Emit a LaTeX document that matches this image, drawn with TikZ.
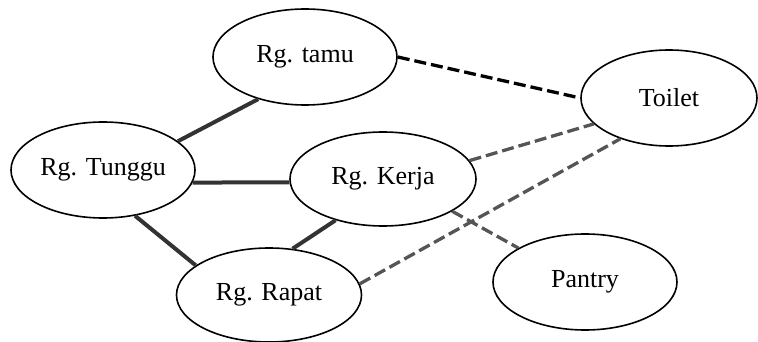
\documentclass[tikz,border=0pt]{standalone}
\usepackage{fontspec}
\setmainfont{Liberation Serif}
\usetikzlibrary{shapes.geometric}
\definecolor{solidgray}{HTML}{333333}
\definecolor{dashgray}{HTML}{555555}
\tikzset{
  room/.style={draw=black, line width=1.6pt, ellipse, inner sep=0pt, fill=white,
    minimum width=184pt, minimum height=96pt, font=\fontsize{26}{30}\selectfont},
  strong/.style={draw=solidgray, line width=4pt},
  weakblack/.style={draw=black, line width=3.3pt, dash pattern=on 12pt off 5pt},
  weakgray/.style={draw=dashgray, line width=3.3pt, dash pattern=on 12pt off 5pt},
}
\begin{document}
\begin{tikzpicture}[x=1pt,y=-1pt]
\useasboundingbox (0,0) rectangle (758,342);
\node[room] (tamu) at (305,57) {Rg. tamu};
\node[room, minimum width=176pt] (toilet) at (669,98) {Toilet};
\node[room] (tunggu) at (103,170) {Rg. Tunggu};
\node[room, minimum width=186pt, minimum height=94pt] (kerja) at (383,179) {Rg. Kerja};
\node[room, minimum width=185pt, minimum height=94pt] (rapat) at (269,295) {Rg. Rapat};
\node[room] (pantry) at (585,282) {Pantry};

\draw[strong] (tamu.222) -- (tunggu.21);
\draw[strong] (tunggu.-8) -- (kerja.182.5);
\draw[strong] (tunggu.-55) -- (rapat.158.6);
\draw[strong] (kerja.221.7) -- (rapat.63);
\draw[weakblack] (tamu.0) -- (toilet.180);
\draw[weakgray] (kerja.12.6) -- (toilet.199);
\draw[weakgray] (rapat.7) -- (toilet.220.5);
\draw[weakgray] (kerja.-25.5) -- (pantry.153);
\end{tikzpicture}
\end{document}
